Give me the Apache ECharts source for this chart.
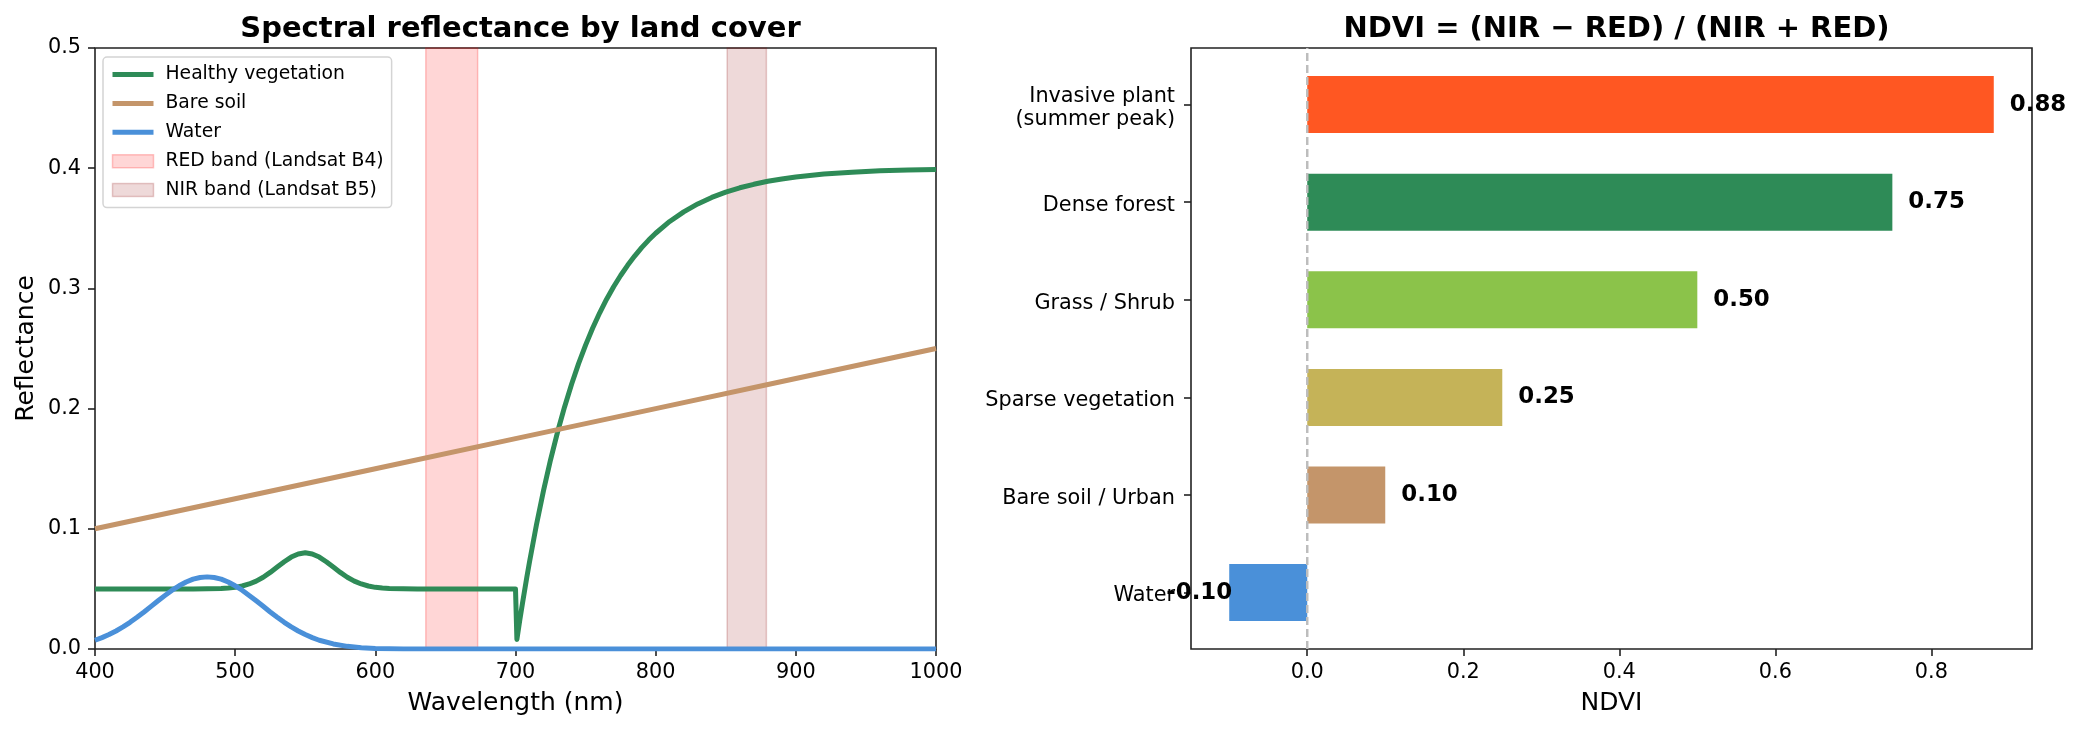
<!DOCTYPE html>
<html>
<head>
<meta charset="utf-8">
<title>Spectral reflectance and NDVI</title>
<script src="https://cdn.jsdelivr.net/npm/echarts@6/dist/echarts.min.js"></script>
<style>
html,body{margin:0;padding:0;background:#fff;}
#main{width:2081px;height:732px;}
</style>
</head>
<body>
<div id="main"></div>
<script>
// reflectance curves: [wavelength nm, reflectance]
var vegetationCurve = [
	[400,0.050],[410,0.050],[420,0.050],[430,0.050],[440,0.050],[450,0.050],[460,0.050],[470,0.0500],
	[480,0.0501],[490,0.0503],[495,0.0507],[500,0.0513],[505,0.0524],[510,0.0541],[515,0.0565],
	[520,0.0597],[525,0.0637],[530,0.0682],[535,0.0726],[540,0.0765],[545,0.0791],[550,0.0800],
	[555,0.0791],[560,0.0765],[565,0.0726],[570,0.0682],[575,0.0637],[580,0.0597],[585,0.0565],
	[590,0.0541],[595,0.0524],[600,0.0513],[605,0.0507],[610,0.0503],[620,0.0501],[630,0.050],
	[640,0.050],[650,0.050],[660,0.050],[670,0.050],[680,0.050],[690,0.050],[700,0.050],
	[701,0.0079],[703,0.0235],[705,0.0381],[708,0.0591],[710,0.0725],[715,0.1037],[720,0.1319],
	[725,0.1574],[730,0.1805],[735,0.2014],[740,0.2203],[745,0.2374],[750,0.2528],[755,0.2669],
	[760,0.2795],[765,0.2910],[770,0.3014],[775,0.3107],[780,0.3192],[785,0.3269],[790,0.3339],
	[795,0.3402],[800,0.3459],[810,0.3557],[820,0.3637],[830,0.3703],[840,0.3757],[850,0.3801],
	[860,0.3837],[870,0.3866],[880,0.3891],[890,0.3910],[900,0.3927],[920,0.3951],[940,0.3967],
	[960,0.3978],[980,0.3985],[1000,0.3990]
];
var soilCurve = [
	[400,0.100],[500,0.125],[600,0.150],[700,0.175],[800,0.200],[900,0.225],[1000,0.250]
];
var waterCurve = [
	[400,0.0073],[405,0.0095],[410,0.0120],[415,0.0150],[420,0.0184],[425,0.0222],[430,0.0264],
	[435,0.0308],[440,0.0355],[445,0.0401],[450,0.0446],[455,0.0489],[460,0.0526],[465,0.0557],
	[470,0.0581],[475,0.0595],[480,0.0600],[485,0.0595],[490,0.0581],[495,0.0557],[500,0.0526],
	[505,0.0489],[510,0.0446],[515,0.0401],[520,0.0355],[525,0.0308],[530,0.0264],[535,0.0222],
	[540,0.0184],[545,0.0150],[550,0.0120],[555,0.0095],[560,0.0073],[570,0.0042],[580,0.0022],
	[590,0.0011],[600,0.0005],[610,0.0002],[620,0],[700,0],[800,0],[900,0],[1000,0]
];
var redBand = [636, 673];
var nirBand = [851, 879];

// NDVI bars, bottom to top
var landCovers = ['Water', 'Bare soil / Urban', 'Sparse vegetation', 'Grass / Shrub', 'Dense forest', 'Invasive plant\n(summer peak)'];
var ndviValues = [-0.10, 0.10, 0.25, 0.50, 0.75, 0.88];
var barColors = ['#4a90d9', '#c4956a', '#c5b358', '#8bc34a', '#2e8b57', '#ff5722'];
var ndviTicks = [0, 0.2, 0.4, 0.6, 0.8];
var zeroLine = [[0, 0], [0, 1]];

var font = 'DejaVu Sans';
var frame = '#222';

var barData = [];
for (var i = 0; i < ndviValues.length; i++) {
	var neg = ndviValues[i] < 0;
	barData.push({
		value: ndviValues[i],
		itemStyle: { color: barColors[i] },
		label: { position: neg ? 'left' : 'right', distance: neg ? -3 : 16 }
	});
}

function lineLegend(name, color) {
	return { name: name, itemStyle: { opacity: 0 }, lineStyle: { color: color, width: 5, opacity: 1 } };
}

var myChart = echarts.init(document.getElementById('main'), null, { renderer: 'canvas' });
var option = {
	backgroundColor: '#fff',
	animation: false,
	textStyle: { fontFamily: font },
	title: [
		{ text: 'Spectral reflectance by land cover', left: 515.5, top: 10, textAlign: 'center',
		  textStyle: { fontFamily: font, fontSize: 29, fontWeight: 'bold', color: '#000' } },
		{ text: 'NDVI = (NIR \u2212 RED) / (NIR + RED)', left: 1611.5, top: 10, textAlign: 'center',
		  textStyle: { fontFamily: font, fontSize: 29, fontWeight: 'bold', color: '#000' } }
	],
	legend: {
		orient: 'vertical',
		left: 103, top: 57,
		padding: [8, 8, 8, 7],
		itemWidth: 41, itemHeight: 13, itemGap: 9.9,
		backgroundColor: '#fff',
		borderColor: '#d4d4d4', borderWidth: 1.5, borderRadius: 4,
		textStyle: { fontFamily: font, fontSize: 18.75, color: '#000', lineHeight: 18.75, padding: [0, 0, 0, 7] },
		data: [
			lineLegend('Healthy vegetation', '#2e8b57'),
			lineLegend('Bare soil', '#c4956a'),
			lineLegend('Water', '#4a90d9'),
			{ name: 'RED band (Landsat B4)', icon: 'rect',
			  itemStyle: { color: 'rgba(255,0,0,0.16)', borderColor: 'rgba(255,0,0,0.22)', borderWidth: 1.5 } },
			{ name: 'NIR band (Landsat B5)', icon: 'rect',
			  itemStyle: { color: 'rgba(139,0,0,0.15)', borderColor: 'rgba(139,0,0,0.2)', borderWidth: 1.5 } }
		]
	},
	grid: [
		{ left: 95, top: 48, width: 841, height: 601, show: true, borderColor: frame, borderWidth: 1.6, backgroundColor: 'transparent' },
		{ left: 1191, top: 48, width: 841, height: 601, show: true, borderColor: frame, borderWidth: 1.6, backgroundColor: 'transparent' },
		{ left: 1191, top: 55.8, width: 841, height: 585.6 }
	],
	xAxis: [
		{
			gridIndex: 0, type: 'value', min: 400, max: 1000, interval: 100,
			name: 'Wavelength (nm)', nameLocation: 'middle', nameGap: 42,
			nameTextStyle: { fontFamily: font, fontSize: 25, color: '#000' },
			axisLine: { show: false },
			axisTick: { show: true, length: 7, lineStyle: { color: frame, width: 1.6 } },
			axisLabel: { fontFamily: font, fontSize: 20.8, color: '#000', margin: 13,
				formatter: function (v) { return String(v); } },
			splitLine: { show: false }
		},
		{
			gridIndex: 1, type: 'value', min: -0.149, max: 0.929,
			name: 'NDVI', nameLocation: 'middle', nameGap: 42,
			nameTextStyle: { fontFamily: font, fontSize: 25, color: '#000' },
			axisLine: { show: false, onZero: false },
			axisTick: { show: true, length: 7, customValues: ndviTicks, lineStyle: { color: frame, width: 1.6 } },
			axisLabel: { fontFamily: font, fontSize: 20.8, color: '#000', margin: 13, customValues: ndviTicks,
				formatter: function (v) { return v.toFixed(1); } },
			splitLine: { show: false }
		},
		{ gridIndex: 2, type: 'value', min: -0.149, max: 0.929, show: false }
	],
	yAxis: [
		{
			gridIndex: 0, type: 'value', min: 0, max: 0.5, interval: 0.1,
			name: 'Reflectance', nameLocation: 'middle', nameGap: 56,
			nameTextStyle: { fontFamily: font, fontSize: 25, color: '#000' },
			axisLine: { show: false },
			axisTick: { show: true, length: 7, lineStyle: { color: frame, width: 1.6 } },
			axisLabel: { fontFamily: font, fontSize: 20.8, color: '#000', margin: 14, padding: [6, 0, 0, 0],
				formatter: function (v) { return v.toFixed(1); } },
			splitLine: { show: false }
		},
		{ gridIndex: 1, type: 'value', min: 0, max: 1, show: false },
		{
			gridIndex: 2, type: 'category', data: landCovers,
			axisLine: { show: false, onZero: false },
			axisTick: { show: true, length: 7, alignWithLabel: true, lineStyle: { color: frame, width: 1.6 } },
			axisLabel: { fontFamily: font, fontSize: 20.8, color: '#000', margin: 16, lineHeight: 23,
				formatter: function (v) { return v.indexOf('\n') >= 0 ? '{two|' + v.replace('\n', '}\n{two|') + '}' : '{one|' + v + '}'; },
				rich: {
					one: { fontFamily: font, fontSize: 20.8, color: '#000', padding: [7, 0, 0, 0] },
					two: { fontFamily: font, fontSize: 20.8, color: '#000', lineHeight: 23, padding: [7, 0, 0, 0] }
				} },
			splitLine: { show: false }
		}
	],
	series: [
		{
			name: 'RED band (Landsat B4)', type: 'line', xAxisIndex: 0, yAxisIndex: 0, data: [],
			markArea: { silent: true,
				itemStyle: { color: 'rgba(255,0,0,0.16)', borderColor: 'rgba(255,0,0,0.22)', borderWidth: 1.5 },
				data: [[{ xAxis: redBand[0] }, { xAxis: redBand[1] }]] }
		},
		{
			name: 'NIR band (Landsat B5)', type: 'line', xAxisIndex: 0, yAxisIndex: 0, data: [],
			markArea: { silent: true,
				itemStyle: { color: 'rgba(139,0,0,0.15)', borderColor: 'rgba(139,0,0,0.2)', borderWidth: 1.5 },
				data: [[{ xAxis: nirBand[0] }, { xAxis: nirBand[1] }]] }
		},
		{
			name: 'Healthy vegetation', type: 'line', xAxisIndex: 0, yAxisIndex: 0,
			data: vegetationCurve, symbol: 'none', showSymbol: false,
			lineStyle: { color: '#2e8b57', width: 5, join: 'round' }, itemStyle: { color: '#2e8b57' }
		},
		{
			name: 'Bare soil', type: 'line', xAxisIndex: 0, yAxisIndex: 0,
			data: soilCurve, symbol: 'none', showSymbol: false,
			lineStyle: { color: '#c4956a', width: 5 }, itemStyle: { color: '#c4956a' }
		},
		{
			name: 'Water', type: 'line', xAxisIndex: 0, yAxisIndex: 0,
			data: waterCurve, symbol: 'none', showSymbol: false,
			lineStyle: { color: '#4a90d9', width: 5, join: 'round' }, itemStyle: { color: '#4a90d9' }
		},
		{
			name: 'zero', type: 'line', xAxisIndex: 1, yAxisIndex: 1,
			data: zeroLine, symbol: 'none', silent: true,
			lineStyle: { color: '#bdbdbd', width: 2.5, type: [8, 4] }
		},
		{
			name: 'NDVI', type: 'bar', xAxisIndex: 2, yAxisIndex: 2,
			data: barData, barWidth: 57,
			label: { show: true, fontFamily: font, fontSize: 22.9, fontWeight: 'bold', color: '#000', padding: [5, 0, 0, 0],
				formatter: function (p) { return p.value.toFixed(2); } }
		}
	]
};
myChart.setOption(option);
</script>
</body>
</html>
